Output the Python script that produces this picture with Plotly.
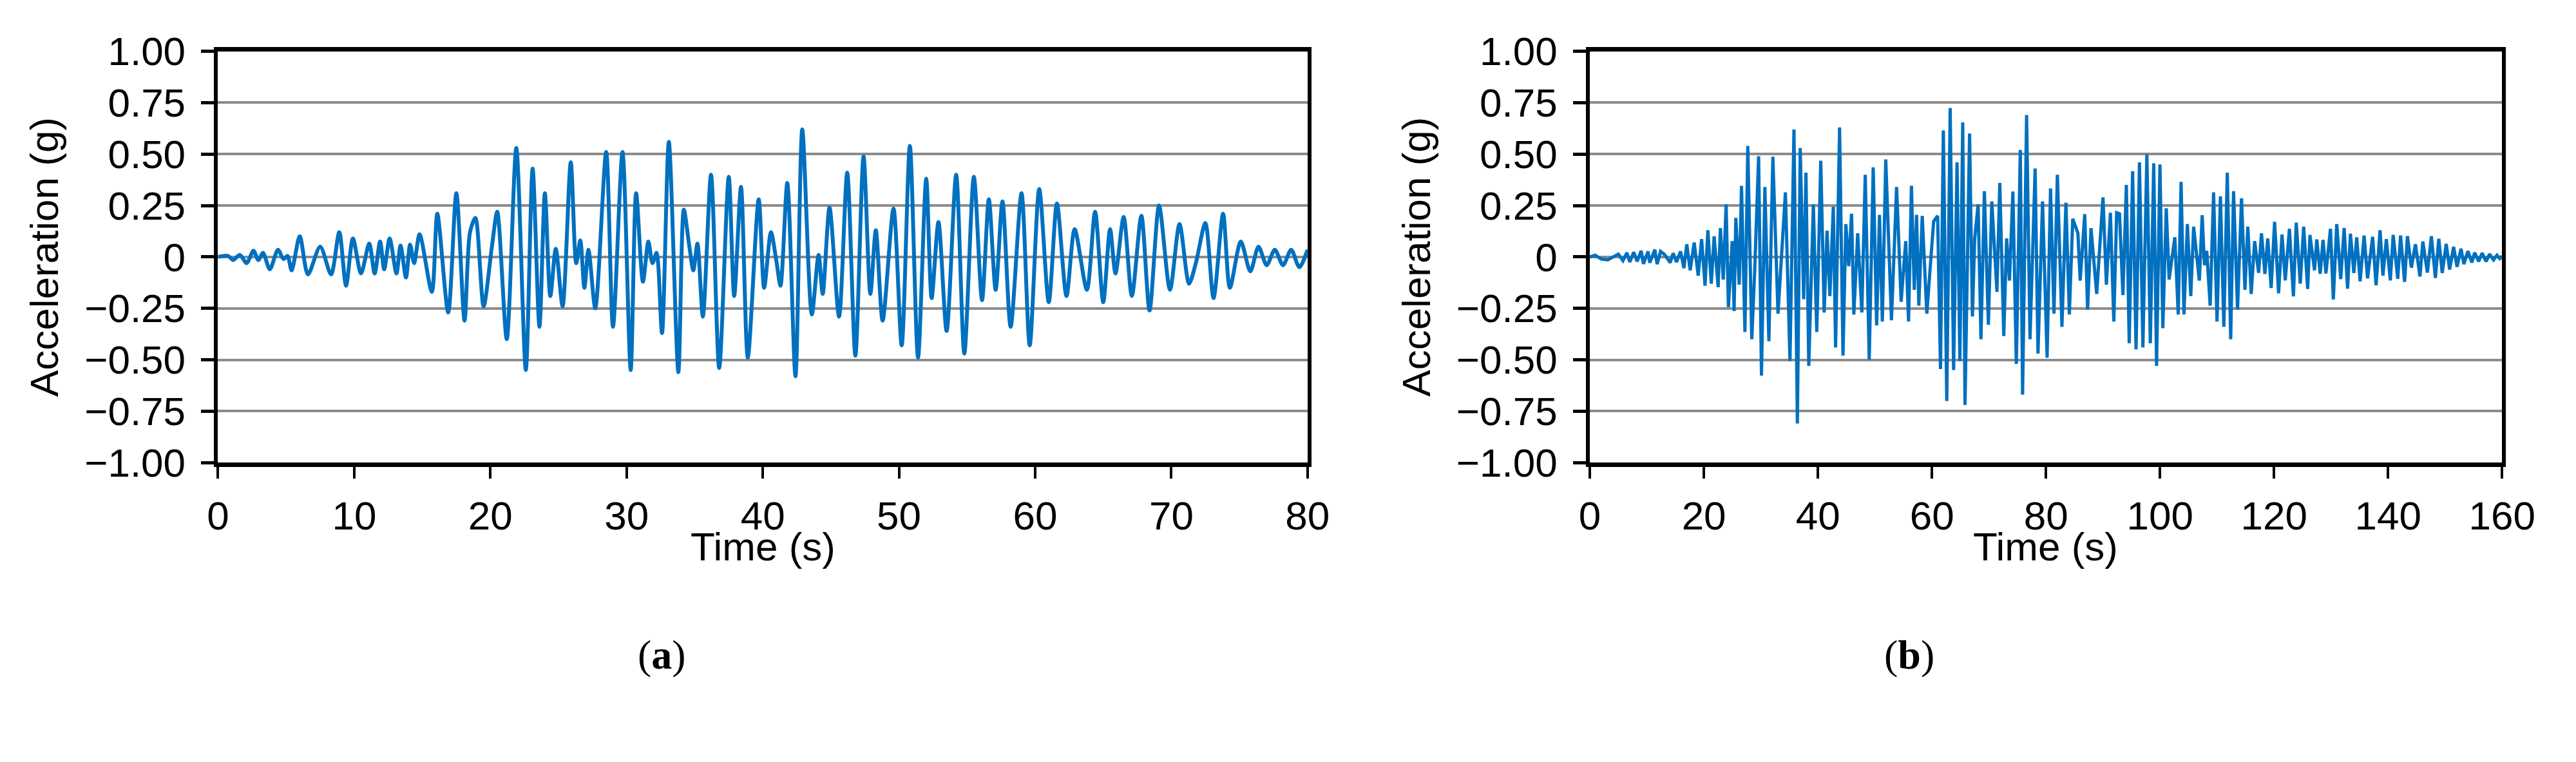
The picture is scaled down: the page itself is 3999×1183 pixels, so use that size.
import plotly.graph_objects as go

# ---- Panel (a): 0-80 s record (extrema) ----
time_a = [0, 0.74, 1.1, 1.6, 2.1, 2.6, 2.96, 3.3, 3.8, 4.4, 4.8, 5.1, 5.4, 6.0, 6.6, 7.5, 8.3, 8.9, 9.4, 9.9,
          10.5, 11.1, 11.5, 11.9, 12.2, 12.6, 13.1, 13.4, 13.8, 14.1, 14.4, 14.8, 15.7, 16.1, 16.9, 17.5, 18.1, 18.5, 18.9, 19.5,
          20.1, 20.5, 21.2, 21.9, 22.6, 23.1, 23.6, 24.0, 24.4, 24.8, 25.3, 25.9, 26.3, 26.6, 26.9, 27.2, 27.7,
          28.5, 29.0, 29.7, 30.3, 30.7, 31.2, 31.6, 31.9, 32.2, 32.6, 33.1, 33.8, 34.2, 34.6, 34.9, 35.2, 35.6, 36.2, 36.8,
          37.5, 37.9, 38.4, 38.9, 39.7, 40.1, 40.6, 41.0, 41.3, 41.8, 42.4, 42.9, 43.6, 44.1, 44.4, 44.9, 45.6, 46.2, 46.8,
          47.4, 47.9, 48.3, 48.8, 49.6, 50.2, 50.8, 51.4, 52.0, 52.4, 52.9, 53.5, 54.2, 54.8, 55.5, 56.1, 56.6, 57.1, 57.6,
          58.2, 59.0, 59.6, 60.3, 61.0, 61.6, 62.3, 62.9, 63.8, 64.4, 65.0, 65.5, 65.9, 66.5, 67.1, 67.8, 68.4, 69.1, 69.9,
          70.6, 71.3, 71.8, 72.5, 73.1, 73.8, 74.3, 75.1, 75.8, 76.4, 77.0, 77.6, 78.2, 78.8, 79.4, 80.0]
acc_a = [0, 0.005, -0.015, 0.01, -0.03, 0.03, -0.015, 0.02, -0.06, 0.035, -0.01, 0.005, -0.065, 0.10, -0.085, 0.05, -0.085, 0.12, -0.14, 0.09,
         -0.08, 0.065, -0.08, 0.075, -0.06, 0.09, -0.08, 0.055, -0.10, 0.06, -0.03, 0.11, -0.17, 0.21, -0.27, 0.31, -0.31, 0.12, 0.19, -0.24,
         0.045, 0.22, -0.40, 0.53, -0.55, 0.43, -0.34, 0.31, -0.19, 0.04, -0.24, 0.46, -0.03, 0.08, -0.15, 0.035, -0.25,
         0.51, -0.34, 0.51, -0.55, 0.31, -0.12, 0.075, -0.03, 0.02, -0.37, 0.56, -0.56, 0.23, 0.055, -0.065, 0.065, -0.29, 0.40, -0.54,
         0.39, -0.19, 0.34, -0.49, 0.28, -0.15, 0.12, -0.02, -0.14, 0.36, -0.58, 0.62, -0.28, 0.01, -0.18, 0.24, -0.29, 0.41, -0.48,
         0.49, -0.18, 0.13, -0.31, 0.235, -0.43, 0.54, -0.49, 0.38, -0.20, 0.17, -0.36, 0.40, -0.47, 0.39, -0.21, 0.28, -0.16, 0.27,
         -0.34, 0.31, -0.43, 0.33, -0.22, 0.26, -0.19, 0.135, -0.16, 0.22, -0.22, 0.135, -0.08, 0.195, -0.19, 0.20, -0.26, 0.25, -0.16,
         0.16, -0.13, -0.03, 0.165, -0.20, 0.21, -0.15, 0.075, -0.07, 0.05, -0.04, 0.035, -0.04, 0.035, -0.05, 0.035]

# ---- Panel (b): 0-160 s record (extrema) ----
time_b = [0, 0.93, 2.0, 3.15, 5.0, 5.8, 6.5, 7.0, 7.7, 8.3, 9.0, 9.4, 10.2, 10.5, 11.4, 11.8, 12.4, 13.1, 14.1, 14.6,
          15.2, 15.9, 16.5, 17.0, 17.6, 18.3, 19.0, 19.6, 20.2, 20.7, 21.3,
          21.8, 22.5, 22.9, 23.4, 23.9, 24.3, 24.97, 25.3, 25.6, 26.2, 26.6, 27.2, 27.7, 28.4, 28.9, 29.6, 30.1, 30.7, 31.4,
          32.1, 33.0, 34.3, 35.1, 35.8, 36.4, 36.9, 37.5, 37.9, 38.4, 39.2,
          39.8, 40.5, 41.1, 41.6, 42.1, 42.7, 43.1, 43.8, 44.4, 44.9, 45.4, 45.9, 46.3, 46.98, 47.7, 48.3, 49.0, 49.7, 50.3,
          50.8, 51.3, 51.9, 52.9, 53.8, 54.6, 55.4, 55.9, 56.4, 56.9, 57.3, 57.7, 58.3, 59.1, 59.7, 60.3, 61.0, 61.5, 62.0,
          62.6, 63.2, 63.8, 64.4, 64.9, 65.4, 65.8,
          66.6, 67.1, 67.5, 68.1, 68.6, 69.2, 69.9, 70.5, 71.4, 71.9, 72.6, 73.1, 73.6, 74.2, 74.8, 75.5, 75.9, 76.6, 77.2,
          78.1, 78.6, 79.4, 80.2, 80.8, 81.4, 82.0, 82.8, 83.5, 84.1, 84.7, 85.6, 86.0, 86.8, 87.3, 87.9, 88.9, 90.0, 90.6,
          91.3, 91.9, 92.4,
          92.9, 93.5, 94.1, 94.6, 95.2, 95.8, 96.4, 97.0, 97.7, 98.3, 98.9, 99.4, 99.99, 100.5, 101.1, 101.6, 102.6, 103.2,
          103.7, 104.2, 104.8, 105.4, 105.9, 106.9, 107.4, 107.8, 108.2, 108.8, 109.4, 110.0, 110.6, 111.2, 111.8, 112.4,
          112.9, 113.6, 114.3, 114.9, 115.4, 116.0, 116.6, 117.3, 117.8, 118.4, 118.9,
          119.5, 120.1, 120.8, 121.4, 121.97, 122.7, 123.4, 123.9, 124.6, 125.2, 125.9, 126.3, 127.1, 127.5, 128.1, 128.6,
          129.1, 129.9, 130.4, 131.0, 131.7, 132.3, 132.9, 133.4, 134.0, 134.5, 135.1, 135.8, 136.4, 137.3, 137.9, 138.6,
          139.1, 139.7, 140.4, 140.9, 141.7, 142.2, 142.9, 143.4, 144.1, 144.8, 145.6, 146.1, 146.9, 147.6, 148.3, 148.9,
          149.5, 150.2, 150.8, 151.5, 152.1, 152.8, 153.3, 154.0, 154.7, 155.2, 155.9, 156.5, 157.2, 157.8, 158.5, 159.1,
          159.6, 160.0]
acc_b = [0, 0.008, -0.01, -0.014, 0.014, -0.018, 0.02, -0.025, 0.023, -0.022, 0.03, -0.034, 0.027, -0.028, 0.035, -0.035,
         0.027, 0.012, -0.028, 0.018, -0.025, 0.027, -0.054, 0.061, -0.065, 0.07, -0.091, 0.087, -0.14, 0.13, -0.13,
         0.10, -0.147, 0.14, -0.11, 0.256, -0.244, 0.077, -0.263, 0.19, -0.135, 0.346, -0.365, 0.54, -0.40, -0.077, 0.49, -0.577, 0.34, -0.41,
         0.487, -0.276, 0.314, -0.506, 0.62, -0.81, 0.53, -0.205, 0.41, -0.53, 0.256,
         -0.365, 0.468, -0.27, 0.128, -0.19, 0.244, -0.44, 0.63, -0.48, 0.16, -0.045, 0.21, -0.28, 0.115, -0.27, 0.40, -0.50, 0.436, -0.333,
         0.205, -0.314, 0.474, -0.308, 0.34, -0.218, 0.077, -0.314, 0.346, -0.16, 0.205, -0.237, 0.20, -0.276, -0.05, 0.173, 0.20, -0.545, 0.615,
         -0.70, 0.724, -0.55, 0.46, -0.506, 0.654, -0.72,
         0.60, -0.29, 0.09, 0.256, -0.40, 0.32, -0.33, 0.27, -0.17, 0.36, -0.385, 0.09, -0.115, 0.318, -0.52, 0.52, -0.67, 0.69, -0.40,
         0.43, -0.47, 0.27, -0.49, 0.333, -0.276, 0.40, -0.34, 0.263, -0.28, 0.186, 0.115, -0.115, 0.208, -0.256, 0.14, -0.18, 0.29, -0.135,
         0.215, -0.314, 0.215,
         0.21, -0.186, 0.35, -0.42, 0.417, -0.45, 0.46, -0.44, 0.50, -0.42, 0.455, -0.53, 0.45, -0.346, 0.237, -0.11, 0.096, -0.28,
         0.365, -0.28, 0.16, -0.19, 0.147, -0.115, 0.203, -0.04, 0.03, -0.237, 0.314, -0.314, 0.295, -0.34, 0.41, -0.40,
         0.32, -0.256, 0.285, -0.16, 0.147, -0.18, 0.077, -0.077, 0.115, -0.083, 0.09,
         -0.151, 0.171, -0.177, 0.109, -0.114, 0.137, -0.192, 0.167, -0.130, 0.147, -0.156, 0.107, -0.065, 0.085, -0.082, 0.083,
         -0.080, 0.137, -0.207, 0.160, -0.108, 0.141, -0.154, 0.113, -0.078, 0.095, -0.119, 0.104, -0.104, 0.098, -0.138, 0.130,
         -0.091, 0.087, -0.114, 0.107, -0.106, 0.104, -0.121, 0.101, -0.052, 0.062, -0.095, 0.075, -0.076, 0.101, -0.102, 0.088,
         -0.078, 0.064, -0.061, 0.049, -0.048, 0.040, -0.035, 0.028, -0.027, 0.021, -0.022, 0.019, -0.022, 0.014, -0.014, 0.008,
         -0.008, 0.005]

y_ticks = [1.0, 0.75, 0.5, 0.25, 0, -0.25, -0.5, -0.75, -1.0]
y_ticktext = ["1.00", "0.75", "0.50", "0.25", "0", "\u22120.25", "\u22120.50", "\u22120.75", "\u22121.00"]
xa_ticks = [0, 10, 20, 30, 40, 50, 60, 70, 80]
xb_ticks = [0, 20, 40, 60, 80, 100, 120, 140, 160]

BLUE = "#0070C0"
FONT = "Liberation Sans, Arial, sans-serif"
W, H = 3999, 1183
TOP, BOT = 40, 718

fig = go.Figure()
fig.add_trace(go.Scatter(x=time_a, y=acc_a, mode="lines", line=dict(color=BLUE, width=6, shape="spline", smoothing=0.8),
                         xaxis="x", yaxis="y", showlegend=False))
fig.add_trace(go.Scatter(x=time_b, y=acc_b, mode="lines", line=dict(color=BLUE, width=5),
                         xaxis="x2", yaxis="y2", showlegend=False))

def xax(dom, rng, ticks):
    return dict(domain=dom, range=rng, tickvals=ticks, ticks="outside", ticklen=18, tickwidth=4, tickcolor="black",
                showline=True, linewidth=7, linecolor="black", mirror=True, showgrid=False, zeroline=False,
                tickfont=dict(family=FONT, size=62, color="black"), ticklabelstandoff=4)

def yax(anchor):
    return dict(domain=[1 - BOT / H, 1 - TOP / H], range=[-1, 1], tickvals=y_ticks, ticktext=y_ticktext, anchor=anchor,
                ticks="outside", ticklen=20, tickwidth=5, tickcolor="black",
                showline=True, linewidth=6, linecolor="black", mirror=True,
                showgrid=True, gridcolor="#8c8c8c", gridwidth=4, zeroline=False,
                tickfont=dict(family=FONT, size=62, color="black"), ticklabelstandoff=12)

xd_a = [319 / W, 2040 / W]
xd_b = [2486 / W, 3927 / W]
fig.update_layout(
    width=W, height=H, margin=dict(l=0, r=0, t=0, b=0),
    plot_bgcolor="white", paper_bgcolor="white",
    xaxis=dict(xax(xd_a, [0, 80], xa_ticks), anchor="y"),
    yaxis=yax("x"),
    xaxis2=dict(xax(xd_b, [0, 160], xb_ticks), anchor="y2"),
    yaxis2=yax("x2"),
)

ann = []
for cx_axis, cx_label, ylab_x, lab in [(1180, 1020, 45, "a"), (3206, 2991, 2212, "b")]:
    ann.append(dict(x=cx_axis / W, y=1 - 856 / H, xref="paper", yref="paper", text="Time (s)", showarrow=False,
                    font=dict(family=FONT, size=62, color="black"), xanchor="center", yanchor="middle"))
    ann.append(dict(x=ylab_x / W, y=1 - (TOP + BOT) / 2 / H, xref="paper", yref="paper", text="Acceleration (g)", showarrow=False,
                    textangle=-90, font=dict(family=FONT, size=62, color="black"), xanchor="center", yanchor="middle"))
    ann.append(dict(x=cx_label / W, y=1 - 1035 / H, xref="paper", yref="paper", text=f"(<b>{lab}</b>)", showarrow=False,
                    font=dict(family="Liberation Serif, Times New Roman, serif", size=64, color="black"),
                    xanchor="center", yanchor="middle"))
fig.update_layout(annotations=ann)

fig.write_html("out.html")
